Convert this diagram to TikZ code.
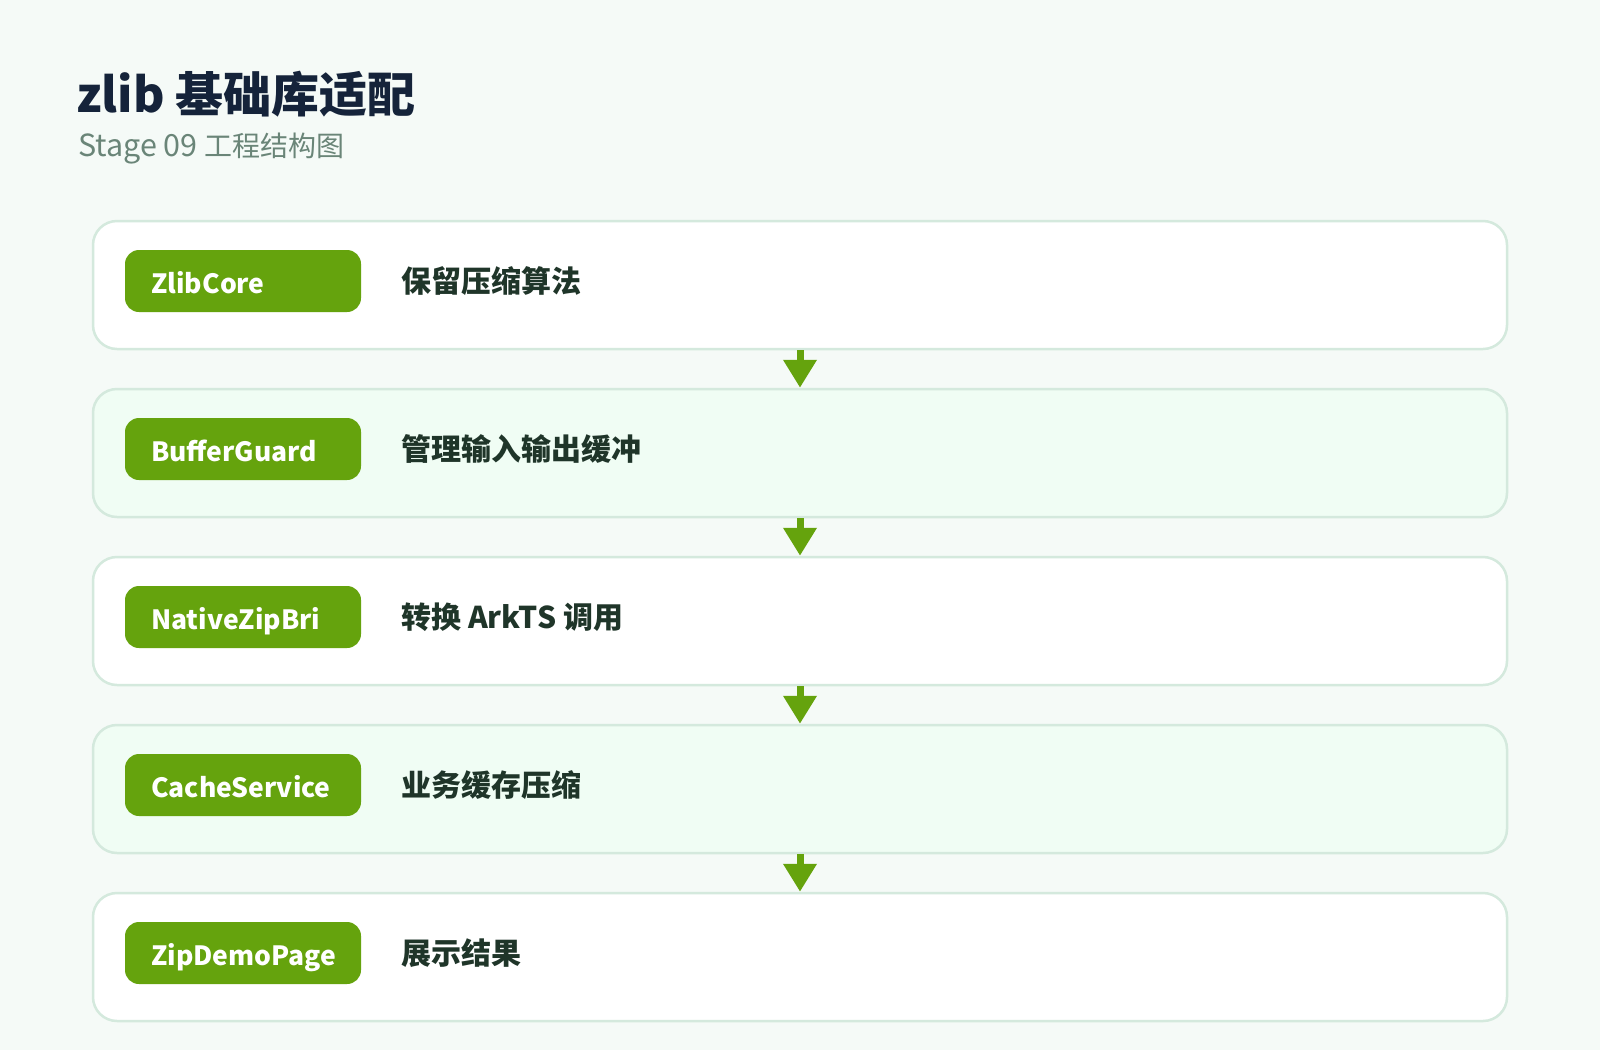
\documentclass[tikz,border=0pt]{standalone}
\usepackage{fontspec}
\setmainfont{Noto Sans CJK SC}
\usetikzlibrary{arrows.meta}
\definecolor{bgc}{HTML}{F5FAF7}
\definecolor{cardline}{HTML}{D4E9DD}
\definecolor{cardalt}{HTML}{F0FDF4}
\definecolor{pillgreen}{HTML}{65A30D}
\definecolor{titlec}{HTML}{15233A}
\definecolor{subc}{HTML}{6A8578}
\definecolor{descc}{HTML}{1F3529}
\begin{document}
\begin{tikzpicture}[x=1pt,y=-1pt,
  card/.style={draw=cardline, line width=2.5pt, rounded corners=24pt, minimum width=1414pt, minimum height=128pt, inner sep=0pt},
  pill/.style={fill=pillgreen, rounded corners=14pt, minimum width=236pt, minimum height=62pt, inner sep=0pt},
  tagtext/.style={anchor=base west, inner sep=0pt, text=white, font=\bfseries\fontsize{26.5}{30}\selectfont},
  desctext/.style={anchor=base west, inner sep=0pt, text=descc, font=\bfseries\fontsize{30}{32}\selectfont},
  flow/.style={draw=pillgreen, line width=7pt, -{Triangle[width=32pt,length=28pt]}}
]
\fill[bgc] (0,0) rectangle (1600,1050);
\useasboundingbox (0,0) rectangle (1600,1050);
\node[anchor=base west, inner sep=0pt, text=titlec, font=\bfseries\fontsize{48}{52}\selectfont] (title) at (76,112) {zlib 基础库适配};
\node[anchor=base west, inner sep=0pt, text=subc, font=\fontsize{28}{30}\selectfont] (subtitle) at (78,156) {{\fontsize{30.5}{30}\selectfont Stage 09 }工程结构图};
\foreach \i/\tag/\desc/\fc in {1/ZlibCore/保留压缩算法/white,2/BufferGuard/管理输入输出缓冲/cardalt,3/NativeZipBri/转换 ArkTS 调用/white,4/CacheService/业务缓存压缩/cardalt,5/ZipDemoPage/展示结果/white}{
  \pgfmathsetmacro\cy{285+168*(\i-1)}
  \pgfmathsetmacro\py{281+168*(\i-1)}
  \pgfmathsetmacro\by{293+168*(\i-1)}
  \pgfmathsetmacro\dy{292.5+168*(\i-1)}
  \node[card, fill=\fc] (card\i) at (800,\cy) {};
  \node[pill] (pill\i) at (243,\py) {};
  \node[tagtext] (tag\i) at (151,\by) {\tag};
  \node[desctext] (desc\i) at (401,\dy) {\desc};
}
\foreach \i in {1,...,4}{
  \pgfmathtruncatemacro\j{\i+1}
  \draw[flow] (card\i.south) -- (card\j.north);
}
\end{tikzpicture}
\end{document}
